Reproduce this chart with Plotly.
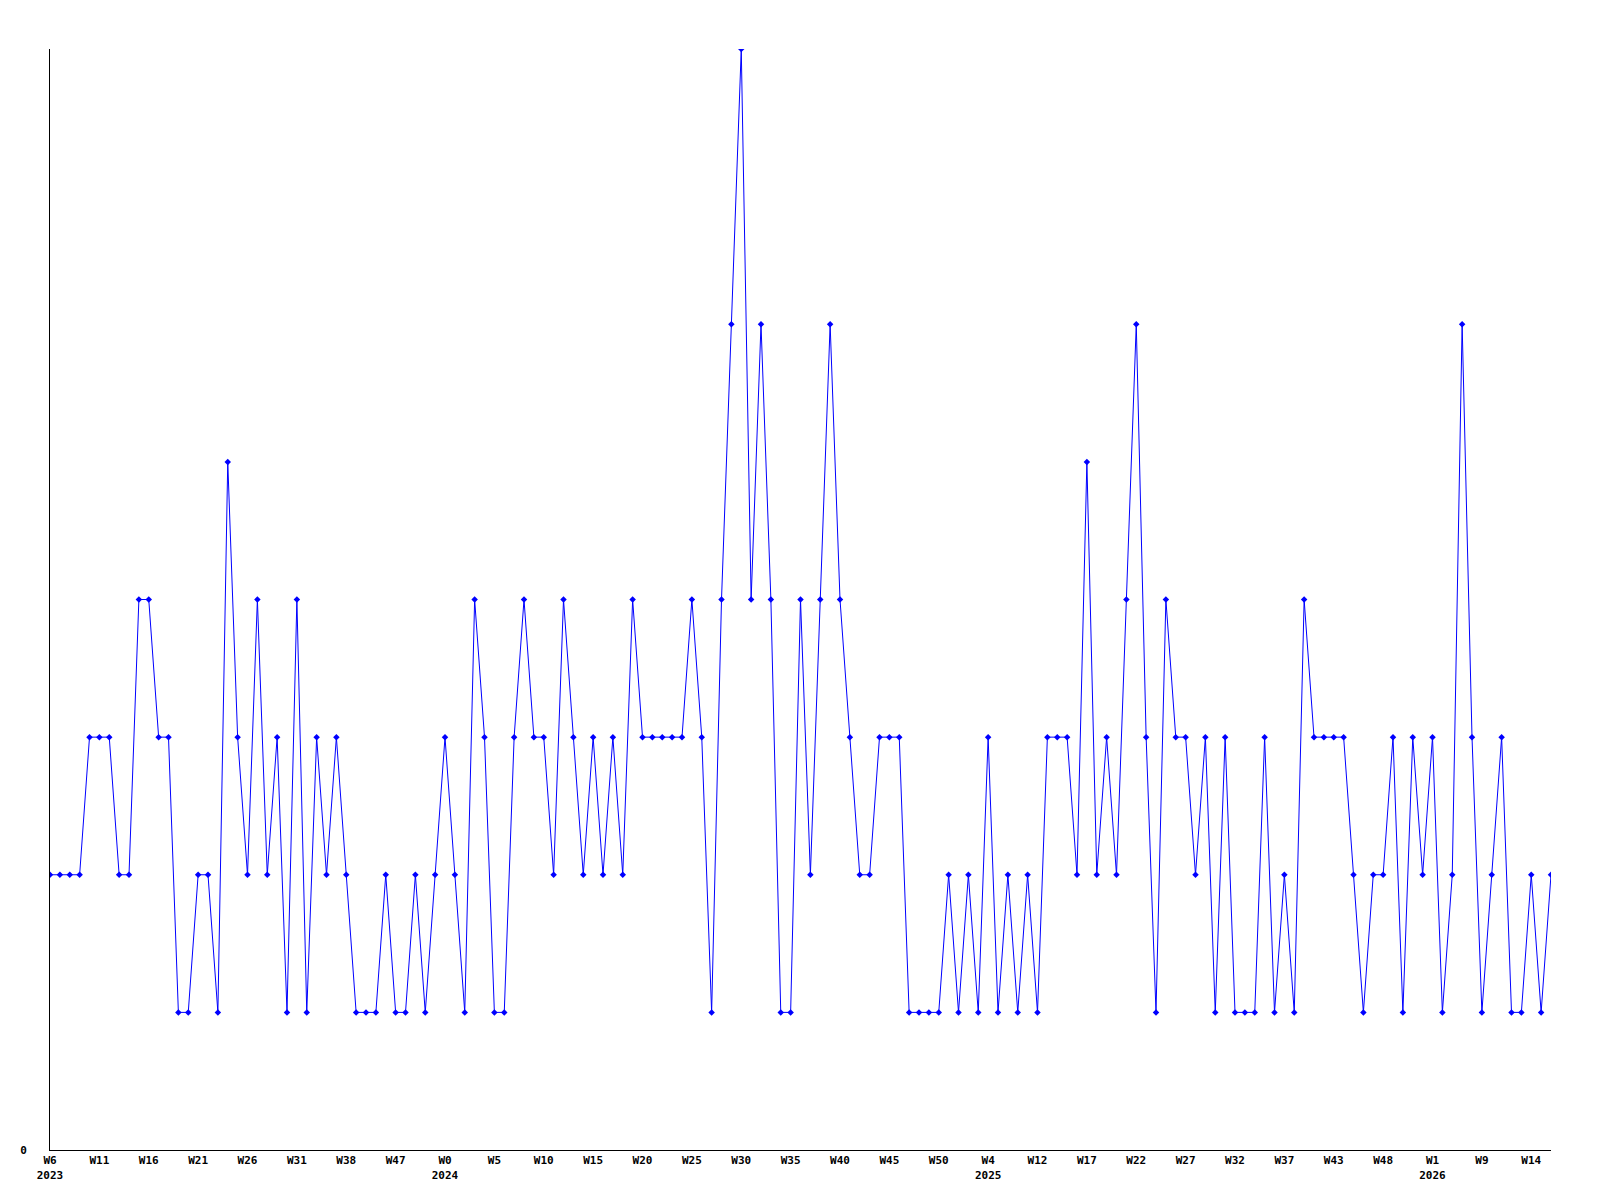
import plotly.graph_objects as go

# weekly counts, one per point
counts = [
    2, 2, 2, 2, 3, 3, 3, 2, 2, 4,
    4, 3, 3, 1, 1, 2, 2, 1, 5, 3,
    2, 4, 2, 3, 1, 4, 1, 3, 2, 3,
    2, 1, 1, 1, 2, 1, 1, 2, 1, 2,
    3, 2, 1, 4, 3, 1, 1, 3, 4, 3,
    3, 2, 4, 3, 2, 3, 2, 3, 2, 4,
    3, 3, 3, 3, 3, 4, 3, 1, 4, 6,
    8, 4, 6, 4, 1, 1, 4, 2, 4, 6,
    4, 3, 2, 2, 3, 3, 3, 1, 1, 1,
    1, 2, 1, 2, 1, 3, 1, 2, 1, 2,
    1, 3, 3, 3, 2, 5, 2, 3, 2, 4,
    6, 3, 1, 4, 3, 3, 2, 3, 1, 3,
    1, 1, 1, 3, 1, 2, 1, 4, 3, 3,
    3, 3, 2, 1, 2, 2, 3, 1, 3, 2,
    3, 1, 2, 6, 3, 1, 2, 3, 1, 1,
    2, 1, 2,
]

# tick labels, one every 5 points
tick_labels = [
    "W6<br>2023", "W11", "W16", "W21", "W26", "W31", "W38", "W47",
    "W0<br>2024", "W5", "W10", "W15", "W20", "W25", "W30", "W35",
    "W40", "W45", "W50", "W4<br>2025", "W12", "W17", "W22", "W27",
    "W32", "W37", "W43", "W48", "W1<br>2026", "W9", "W14",
]

x = list(range(len(counts)))
tick_pos = list(range(0, len(counts), 5))

fig = go.Figure()
fig.add_trace(go.Scatter(
    x=x, y=counts,
    mode="lines+markers",
    line=dict(color="#0000ff", width=1),
    marker=dict(color="#0000ff", size=5, symbol="diamond"),
    showlegend=False,
))

font = dict(family="DejaVu Sans Mono", size=11, color="black")

# page body adds ~8px offset, so margins are shifted to compensate
fig.update_layout(
    width=1600, height=1200,
    margin=dict(l=42, r=57, t=41, b=58),
    paper_bgcolor="white",
    plot_bgcolor="white",
    font=font,
)
fig.update_xaxes(
    range=[0, len(counts) - 1],
    tickvals=tick_pos,
    ticktext=[f"<b>{t}</b>".replace("<br>", "</b><br><b>") for t in tick_labels],
    showgrid=False, zeroline=False,
    showline=True, linecolor="black", linewidth=1,
    ticks="", tickangle=0,
    tickfont=font,
)
fig.update_yaxes(
    range=[0, 8],
    tickvals=[0],
    ticktext=["<b>0</b>"],
    showgrid=False, zeroline=False,
    showline=True, linecolor="black", linewidth=1,
    ticks="", ticklabelstandoff=20,
    tickfont=font,
)

fig.write_html("out.html")
